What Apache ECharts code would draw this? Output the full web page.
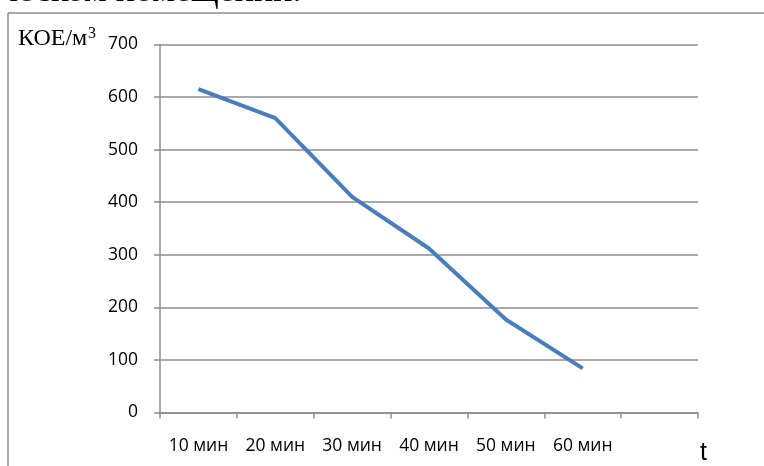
<!DOCTYPE html>
<html>
<head>
<meta charset="utf-8">
<script src="https://cdn.jsdelivr.net/npm/echarts@6/dist/echarts.min.js"></script>
<style>
html,body{margin:0;padding:0;background:#fff;}
#chart{width:764px;height:466px;}
</style>
</head>
<body>
<div id="chart"></div>
<script>
var categories = ['10 мин', '20 мин', '30 мин', '40 мин', '50 мин', '60 мин', ''];
var values = [615, 560, 410, 312, 177, 84];
var yTicks = { min: 0, max: 700, interval: 100 };

var chart = echarts.init(document.getElementById('chart'), null, { renderer: 'canvas' });
chart.setOption({
  animation: false,
  backgroundColor: '#ffffff',
  grid: { left: 160, right: 66, top: 44.5, bottom: 53.5, containLabel: false },
  xAxis: {
    type: 'category',
    data: categories,
    boundaryGap: true,
    axisLine: { lineStyle: { color: '#8c8c8c', width: 1.5 } },
    axisTick: { show: true, length: 6, alignWithLabel: false, lineStyle: { color: '#8c8c8c', width: 1.5 } },
    axisLabel: { margin: 25, color: '#000', fontFamily: 'Open Sans', fontSize: 17.5, interval: 0 },
    splitLine: { show: false }
  },
  yAxis: {
    type: 'value',
    min: yTicks.min, max: yTicks.max, interval: yTicks.interval,
    axisLine: { show: true, lineStyle: { color: '#8c8c8c', width: 1.5 } },
    axisTick: { show: true, length: 6, lineStyle: { color: '#8c8c8c', width: 1.5 } },
    axisLabel: { margin: 22, color: '#000', fontFamily: 'Open Sans', fontSize: 17.5 },
    splitLine: { show: true, lineStyle: { color: '#8c8c8c', width: 1.5 } }
  },
  series: [{
    type: 'line',
    data: values,
    symbol: 'none',
    lineStyle: { color: '#4a7ebb', width: 4 },
    z: 5
  }],
  graphic: [
    { type: 'text', left: 0, top: -26, style: { text: 'ческом помещении.', fontSize: 36, fontFamily: 'Liberation Serif', fill: '#000' } },
    { type: 'line', shape: { x1: 8, y1: 13, x2: 764, y2: 13 }, style: { stroke: '#8c8c8c', lineWidth: 1.5 } },
    { type: 'line', shape: { x1: 8, y1: 13, x2: 8, y2: 466 }, style: { stroke: '#8c8c8c', lineWidth: 1.5 } },
    { type: 'text', left: 18, top: 26.5, style: { text: 'КОЕ/м', fontSize: 24, fontFamily: 'Liberation Serif', fill: '#000' } },
    { type: 'text', left: 88, top: 25.5, style: { text: '3', fontSize: 16, fontFamily: 'Liberation Serif', fill: '#000' } },
    { type: 'text', left: 700, top: 441, style: { text: 't', fontSize: 25, fontFamily: 'Liberation Sans', fill: '#000' } }
  ]
});
</script>
</body>
</html>
